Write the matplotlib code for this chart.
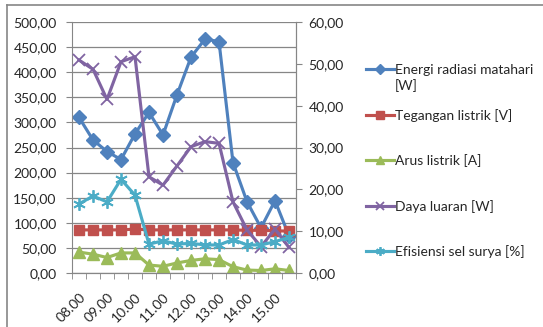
import matplotlib
matplotlib.use("Agg")
import matplotlib.pyplot as plt
from matplotlib.lines import Line2D
from matplotlib.ticker import FuncFormatter, MultipleLocator

plt.rcParams['font.family'] = ['Lato', 'DejaVu Sans']

waktu = ['08.00', '08.30', '09.00', '09.30', '10.00', '10.30', '11.00', '11.30',
         '12.00', '12.30', '13.00', '13.30', '14.00', '14.30', '15.00', '15.30']
energi = [310, 265, 242, 226, 277, 320, 275, 355, 430, 466, 461, 220, 142, 90, 144, 74]
tegangan = [10.3, 10.3, 10.3, 10.3, 10.5, 10.3, 10.3, 10.3, 10.3, 10.3, 10.3, 10.3, 10.2, 10.2, 10.1, 10.0]
arus = [5.0, 4.5, 3.7, 4.8, 4.8, 1.9, 1.6, 2.4, 3.0, 3.4, 3.2, 1.5, 0.7, 0.6, 1.0, 0.6]
daya = [50.9, 48.7, 41.5, 50.5, 51.7, 23.0, 21.0, 25.6, 30.2, 31.4, 31.0, 17.0, 10.3, 6.3, 10.5, 6.1]
efisiensi = [16.5, 18.4, 17.0, 22.4, 18.6, 6.9, 7.7, 6.9, 7.1, 6.7, 6.7, 8.0, 6.7, 6.7, 7.5, 8.5]

W, H = 543, 327
fig = plt.figure(figsize=(W / 100, H / 100), dpi=100)
ax = fig.add_axes([72 / W, 1 - 273 / H, (296 - 72) / W, (273 - 22) / H])
ax2 = ax.twinx()

x = list(range(len(waktu)))
lw = 2.25
ax.plot(x, energi, color='#4F81BD', lw=lw, marker='D', ms=7, label='Energi radiasi matahari')
ax2.plot(x, tegangan, color='#C0504D', lw=lw, marker='s', ms=7.5, label='Tegangan listrik [V]')
ax2.plot(x, arus, color='#9BBB59', lw=lw, marker='^', ms=8, label='Arus listrik [A]')
ax2.plot(x, daya, color='#8064A2', lw=lw, marker='x', ms=8, mew=1.3, label='Daya luaran [W]')
ax2.plot(x, efisiensi, color='#4BACC6', lw=lw, marker=(6, 2, 0), ms=9, mew=1.3, label='Efisiensi sel surya [%]')

fmt = FuncFormatter(lambda v, p: f'{v:.2f}'.replace('.', ','))
ax.set_ylim(0, 500)
ax.yaxis.set_major_locator(MultipleLocator(50))
ax.yaxis.set_major_formatter(fmt)
ax2.set_ylim(0, 60)
ax2.yaxis.set_major_locator(MultipleLocator(10))
ax2.yaxis.set_major_formatter(fmt)

ax.set_xlim(-0.5, len(waktu) - 0.5)
ax.set_xticks(x)
ax.set_xticklabels([t if i % 2 == 0 else '' for i, t in enumerate(waktu)],
                   rotation=45, ha='right', rotation_mode='anchor')
ax.set_xticks([i - 0.5 for i in range(len(waktu) + 1)], minor=True)
ax.tick_params(axis='x', which='major', length=0, pad=13)
ax.tick_params(axis='x', which='minor', length=4, color='#868686')

ax.grid(axis='y', color='#868686', lw=0.9)
ax.set_axisbelow(True)
for a in (ax, ax2):
    a.spines['top'].set_visible(False)
    for s in ('left', 'right', 'bottom'):
        a.spines[s].set_color('#868686')
    a.tick_params(labelsize=10, labelcolor='#262626')
ax.tick_params(axis='y', length=4, color='#868686', pad=7)
ax2.tick_params(axis='y', length=4, color='#868686', pad=5)
ax2.spines['left'].set_visible(False)

h1, l1 = ax.get_legend_handles_labels()
h2, l2 = ax2.get_legend_handles_labels()
leg = fig.legend(h1 + h2, l1 + l2, loc='upper left', bbox_to_anchor=(359 / W, 1 - 57 / H),
                 frameon=False, fontsize=10, handlelength=2.0, handletextpad=0.1,
                 borderpad=0, labelspacing=2.35, markerscale=0.7, labelcolor='#262626')

# second line of the first legend entry
fig.canvas.draw()
bb = leg.get_texts()[0].get_window_extent()
fig.text(bb.x0, bb.y0 - 3, '[W]', transform=None, fontsize=10, color='#262626',
         ha='left', va='top')

# chart border
fig.add_artist(Line2D([7 / W, 1], [1 - 5 / H, 1 - 5 / H], color='#868686', lw=1.2))
fig.add_artist(Line2D([7 / W, 7 / W], [0, 1 - 5 / H], color='#868686', lw=1.2))

fig.savefig('out.png', dpi=100)
